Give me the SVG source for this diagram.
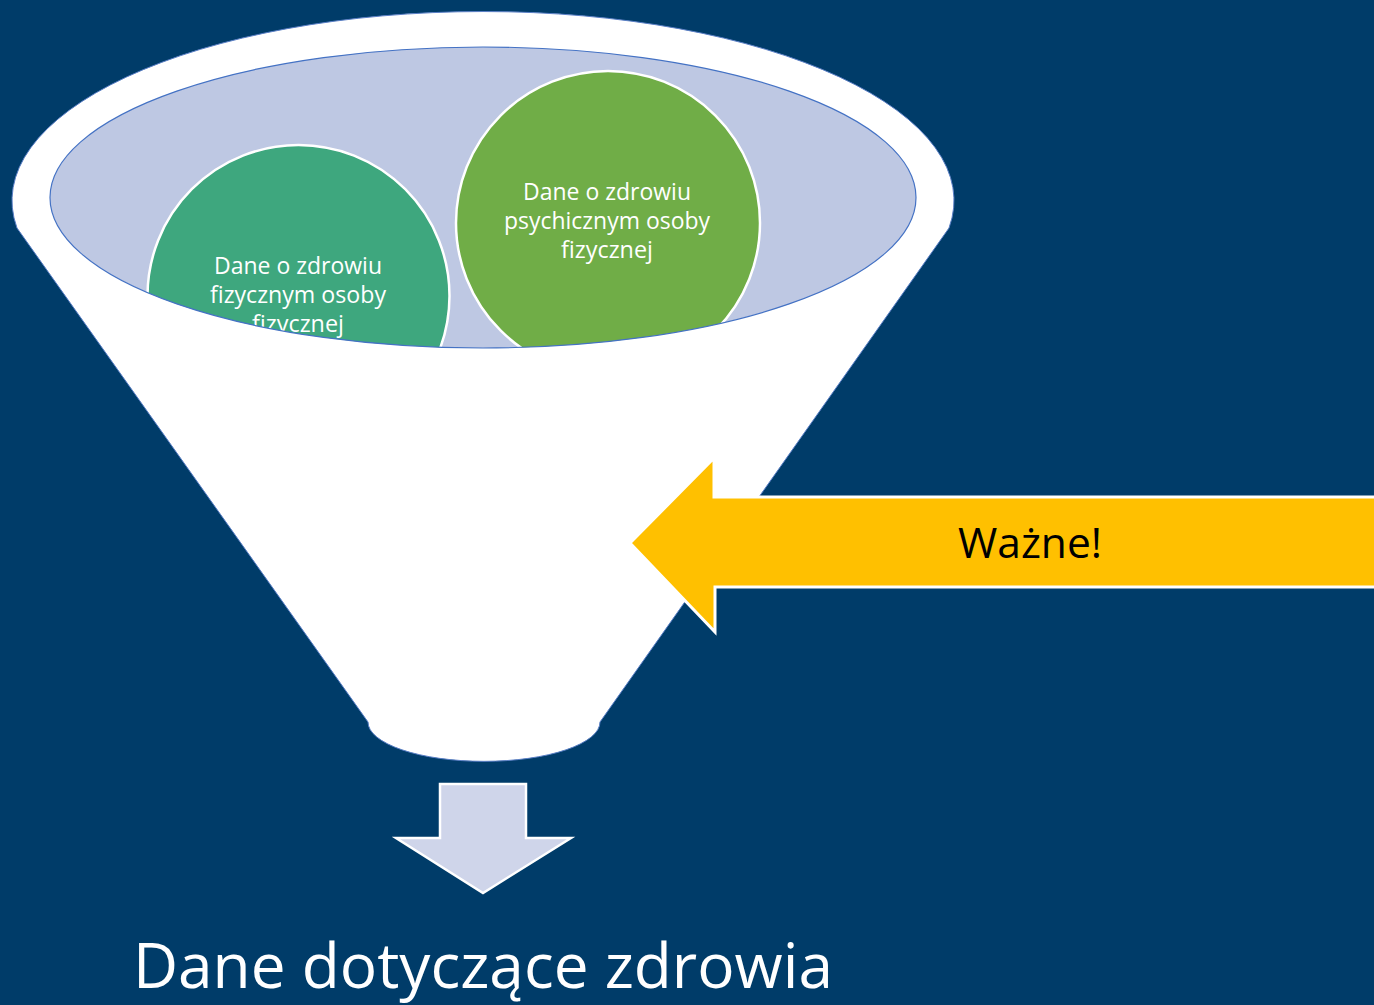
<svg xmlns="http://www.w3.org/2000/svg" width="1374" height="1005" viewBox="0 0 1374 1005">
  <style>
    .lbl { font-family: "Open Sans", "Liberation Sans", sans-serif; fill: #ffffff; text-anchor: middle; }
    .small { font-size: 23px; }
    .big { font-size: 62px; }
    .warn { font-family: "Open Sans", "Liberation Sans", sans-serif; font-size: 42px; fill: #000000; text-anchor: middle; }
  </style>
  <defs>
    <clipPath id="mouth">
      <ellipse cx="483" cy="197.5" rx="433" ry="150.5"/>
    </clipPath>
  </defs>

  <!-- background -->
  <rect x="0" y="0" width="1374" height="1005" fill="#003C69"/>

  <!-- funnel body -->
  <g id="funnel">
    <path d="M 17 228 A 471 189 0 1 1 949 228 L 600 722 A 115 39 0 0 1 368 722 Z"
          fill="#ffffff" stroke="#5A7FC6" stroke-width="1"/>
    <ellipse cx="483" cy="197.5" rx="433" ry="150.5" fill="#BEC8E3"/>
  </g>

  <!-- circles inside the funnel mouth -->
  <g id="node-physical" clip-path="url(#mouth)">
    <circle cx="298.5" cy="296" r="151" fill="#3EA77E" stroke="#ffffff" stroke-width="2.5"/>
    <text class="lbl small" x="298" y="274" textLength="168" lengthAdjust="spacingAndGlyphs">Dane o zdrowiu</text>
    <text class="lbl small" x="298" y="303" textLength="176" lengthAdjust="spacingAndGlyphs">fizycznym osoby</text>
    <text class="lbl small" x="298" y="332" textLength="92" lengthAdjust="spacingAndGlyphs">fizycznej</text>
  </g>
  <g id="node-mental" clip-path="url(#mouth)">
    <circle cx="608" cy="223" r="152" fill="#70AD47" stroke="#ffffff" stroke-width="2.5"/>
    <text class="lbl small" x="607" y="200" textLength="168" lengthAdjust="spacingAndGlyphs">Dane o zdrowiu</text>
    <text class="lbl small" x="607" y="229" textLength="206" lengthAdjust="spacingAndGlyphs">psychicznym osoby</text>
    <text class="lbl small" x="607" y="258" textLength="92" lengthAdjust="spacingAndGlyphs">fizycznej</text>
  </g>
  <ellipse id="mouth-rim" cx="483" cy="197.5" rx="433" ry="150.5" fill="none" stroke="#4472C4" stroke-width="1.2"/>

  <!-- callout arrow -->
  <g id="node-important">
    <polygon points="630,543 714,458 714,497 1380,497 1380,587 715,587 715,632"
             fill="#FFC000" stroke="#ffffff" stroke-width="3" stroke-linejoin="miter"/>
    <text class="warn" x="1030" y="558" textLength="144" lengthAdjust="spacingAndGlyphs">Ważne!</text>
  </g>

  <!-- output arrow -->
  <g id="connectors">
    <polygon points="440,784 526,784 526,838 571,838 483,893 396,838 440,838"
             fill="#CFD5EA" stroke="#ffffff" stroke-width="2.5"/>
  </g>

  <!-- result label -->
  <g id="node-result">
    <text class="lbl big" x="483" y="988" textLength="700" lengthAdjust="spacingAndGlyphs">Dane dotyczące zdrowia</text>
  </g>
</svg>
